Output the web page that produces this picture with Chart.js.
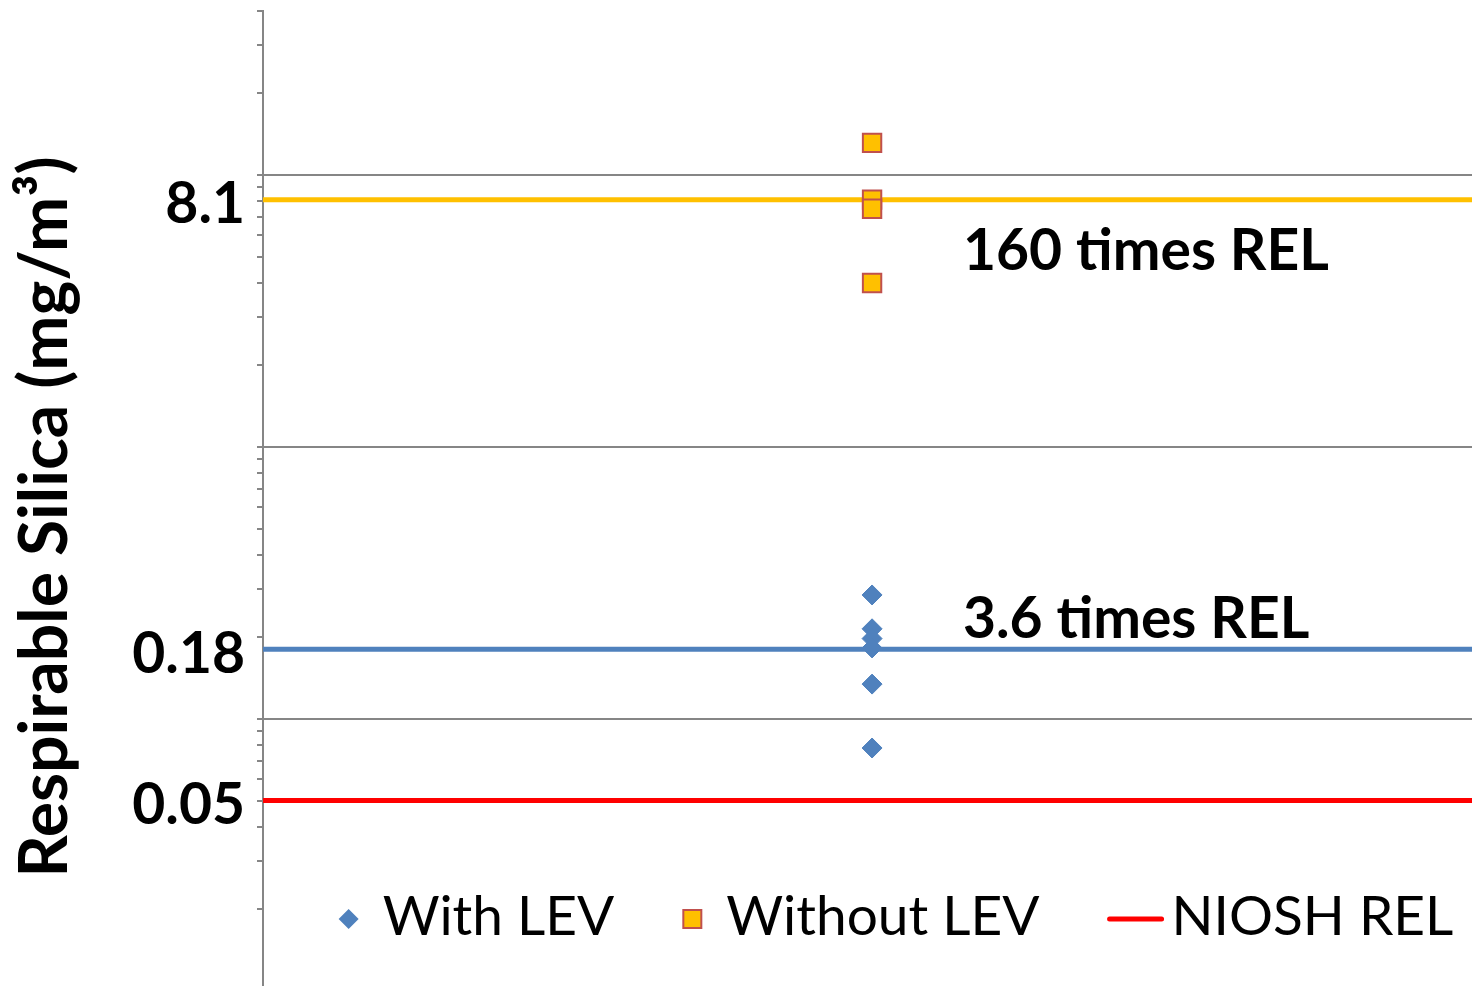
<!DOCTYPE html>
<html>
<head>
<meta charset="utf-8">
<script src="https://cdn.jsdelivr.net/npm/chart.js@4.4.0/dist/chart.umd.min.js"></script>
<style>
  html, body { margin: 0; padding: 0; background: #fff; overflow: hidden; }
  #wrap { position: relative; width: 1472px; height: 986px; }
  #wrap canvas { display: block; }
</style>
</head>
<body>
<div id="wrap"><canvas id="myChart"></canvas></div>
<script>
// respirable silica samples (mg/m3), all plotted in one column
const withLev = [0.285, 0.214, 0.197, 0.182, 0.134, 0.078];
const withoutLev = [13.1, 8.1, 7.5, 4.0];

// horizontal reference levels
const nioshRel = 0.05;
const withLevMean = 0.18;
const withoutLevMean = 8.1;

// y axis range (bottom is cut just above 0.01) and the only labelled values
const yMin = 0.0104;
const yMax = 40;
const firstDecade = 0.01;
const labelledTicks = [0.05, 0.18, 8.1];

// text written next to the mean lines
const annotationText = ['160 times REL', '3.6 times REL'];
const annotationAt = [withoutLevMean, withLevMean];

const seriesLabels = ['With LEV', 'Without LEV', 'NIOSH REL'];
const yTitle = 'Respirable Silica (mg/m\u00B3)';

// x is just one column, no visible axis
const xPos = 1;
const xMax = 1.985;

const FONT = 'Lato';
const GRAY = '#868686';

// log ticks: 1..9 in every decade, plus the labelled values
const minorTicks = [];
for (let d = firstDecade; d < yMax; d *= 10) {
  for (let m = 1; m <= 9; m++) {
    const v = +(m * d).toPrecision(6);
    if (v >= yMin && v <= yMax) minorTicks.push(v);
  }
}
const same = (a, b) => Math.abs(a - b) < 1e-9;
const labelOnly = labelledTicks.filter(v => !minorTicks.some(t => same(t, v)));
const yTicks = minorTicks.concat(labelOnly).sort((a, b) => a - b);
const isDecade = v => Math.abs(Math.log10(v) - Math.round(Math.log10(v))) < 1e-6;

const flatLine = v => [{ x: 0, y: v }, { x: xMax, y: v }];

// legend, axis title and the two notes are drawn here
const extras = {
  id: 'extras',
  afterDraw(chart, args, opts) {
    const { ctx, chartArea } = chart;
    const yScale = chart.scales.y;

    // y title
    ctx.save();
    ctx.translate(opts.titleX, opts.titleY);
    ctx.rotate(-Math.PI / 2);
    ctx.font = 'bold 66px ' + FONT;
    ctx.fillStyle = '#000';
    ctx.textAlign = 'center';
    ctx.textBaseline = 'alphabetic';
    ctx.fillText(yTitle, 0, 0);
    ctx.restore();

    // notes
    ctx.save();
    ctx.font = 'bold 57px ' + FONT;
    ctx.fillStyle = '#000';
    ctx.textBaseline = 'alphabetic';
    annotationText.forEach((t, i) => {
      const y = yScale.getPixelForValue(annotationAt[i]) + opts.noteDy[i];
      ctx.fillText(t, chartArea.left + opts.noteX, y);
    });
    ctx.restore();

    // legend
    ctx.save();
    ctx.font = '55px ' + FONT;
    ctx.textBaseline = 'middle';
    const items = chart.data.datasets.filter(ds => ds.inLegend);
    const parts = items.map(ds => {
      const isLine = ds.type === 'line';
      const mw = isLine ? 56 : 20;
      const gap = isLine ? 8 : 24;
      return { ds, isLine, mw, gap, tw: ctx.measureText(ds.label).width };
    });
    const total = parts.reduce((s, p) => s + p.mw + p.gap + p.tw, 0) + opts.itemGap * (parts.length - 1);
    let x = opts.legendCx - total / 2;
    const ly = opts.legendY;
    parts.forEach(p => {
      const ds = p.ds;
      if (p.isLine) {
        ctx.strokeStyle = ds.borderColor;
        ctx.lineWidth = 5;
        ctx.lineCap = 'round';
        ctx.beginPath();
        ctx.moveTo(x + 2, ly);
        ctx.lineTo(x + p.mw - 2, ly);
        ctx.stroke();
      } else if (ds.pointStyle === 'rectRot') {
        const cx = x + 10;
        ctx.fillStyle = ds.backgroundColor;
        ctx.beginPath();
        ctx.moveTo(cx, ly - 10);
        ctx.lineTo(cx + 10, ly);
        ctx.lineTo(cx, ly + 10);
        ctx.lineTo(cx - 10, ly);
        ctx.closePath();
        ctx.fill();
      } else {
        ctx.fillStyle = ds.backgroundColor;
        ctx.strokeStyle = ds.borderColor;
        ctx.lineWidth = 2;
        ctx.fillRect(x + 1, ly - 9, 18, 18);
        ctx.strokeRect(x + 1, ly - 9, 18, 18);
      }
      x += p.mw + p.gap;
      ctx.fillStyle = '#000';
      ctx.fillText(ds.label, x, ly - 2);
      x += p.tw + opts.itemGap;
    });
    ctx.restore();
  }
};

new Chart('myChart', {
  data: {
    datasets: [
      {
        type: 'scatter',
        label: seriesLabels[0],
        inLegend: true,
        data: withLev.map(v => ({ x: xPos, y: v })),
        pointStyle: 'rectRot',
        pointRadius: 10,
        backgroundColor: '#4F81BD',
        borderColor: '#4F81BD',
        borderWidth: 1,
      },
      {
        type: 'scatter',
        label: seriesLabels[1],
        inLegend: true,
        data: withoutLev.map(v => ({ x: xPos, y: v })),
        pointStyle: 'rect',
        pointRadius: 13,
        backgroundColor: '#FFC000',
        borderColor: '#C0504D',
        borderWidth: 2,
      },
      {
        type: 'line',
        label: seriesLabels[2],
        inLegend: true,
        data: flatLine(nioshRel),
        borderColor: '#FF0000',
        borderWidth: 5,
        pointRadius: 0,
      },
      {
        type: 'line',
        label: 'Without LEV mean',
        data: flatLine(withoutLevMean),
        borderColor: '#FFC000',
        borderWidth: 5,
        pointRadius: 0,
      },
      {
        type: 'line',
        label: 'With LEV mean',
        data: flatLine(withLevMean),
        borderColor: '#4F81BD',
        borderWidth: 5,
        pointRadius: 0,
      },
    ],
  },
  options: {
    responsive: true,
    maintainAspectRatio: false,
    animation: false,
    layout: { autoPadding: false, padding: { top: 11, right: 0, bottom: 0, left: 0 } },
    plugins: {
      legend: { display: false },
      tooltip: { enabled: false },
      extras: {
        titleX: 67, titleY: 517,
        noteX: 700, noteDy: [70, -11],
        legendCx: 896, legendY: 919, itemGap: 68,
      },
    },
    scales: {
      x: { type: 'linear', min: 0, max: xMax, display: false },
      y: {
        type: 'logarithmic',
        min: yMin,
        max: yMax,
        afterBuildTicks: scale => { scale.ticks = yTicks.map(v => ({ value: v })); },
        afterFit: scale => {
          scale.width = 263;
          scale.paddingTop = 0;
          scale.paddingBottom = 0;
        },
        border: { display: true, color: GRAY, width: 2 },
        grid: {
          lineWidth: 2,
          color: ctx => (ctx.tick && isDecade(ctx.tick.value) ? GRAY : 'rgba(0,0,0,0)'),
          tickColor: ctx => (ctx.tick && labelOnly.some(v => same(v, ctx.tick.value)) ? 'rgba(0,0,0,0)' : GRAY),
          tickLength: 6,
        },
        ticks: {
          autoSkip: false,
          padding: 12,
          labelOffset: 5,
          color: '#000',
          font: { family: FONT, weight: 'bold', size: 57 },
          callback: value => (labelledTicks.some(v => same(v, value)) ? String(value) : ''),
        },
      },
    },
  },
  plugins: [extras],
});
</script>
</body>
</html>
